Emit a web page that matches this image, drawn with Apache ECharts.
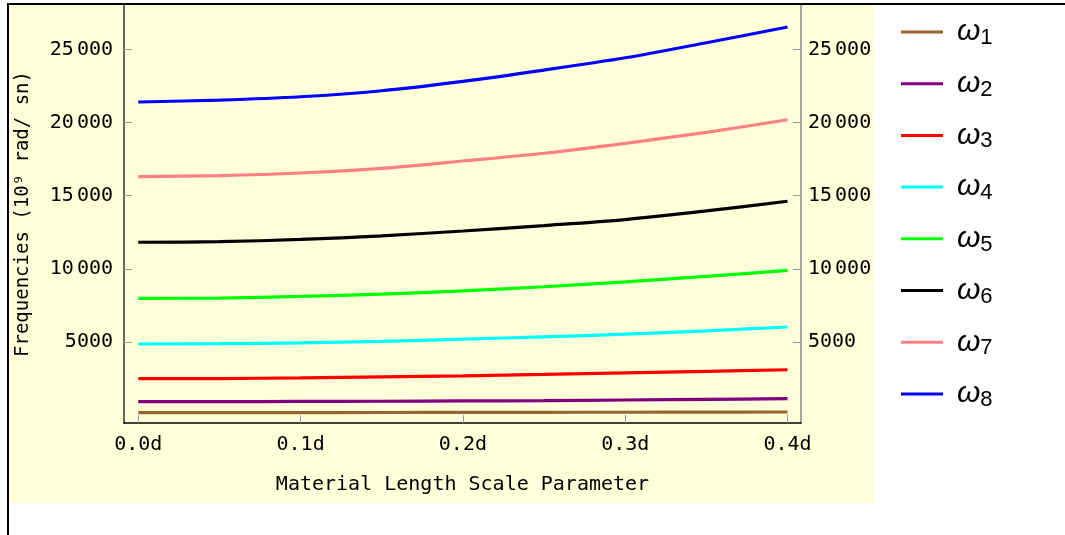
<!DOCTYPE html>
<html>
<head>
<meta charset="utf-8">
<script src="https://cdn.jsdelivr.net/npm/echarts@6/dist/echarts.min.js"></script>
<style>
  html, body { margin: 0; padding: 0; background: #fff; }
  #chart { width: 1065px; height: 535px; }
</style>
</head>
<body>
<div id="chart"></div>
<script>
// Length scale parameter (in units of d)
const lengthScale = [0, 0.05, 0.1, 0.15, 0.2, 0.25, 0.3, 0.35, 0.4];

// Natural frequencies, 10^9 rad/sn
const omega1 = [180, 182, 186, 192, 198, 204, 210, 218, 225];
const omega2 = [930, 935, 945, 960, 980, 1005, 1045, 1090, 1135];
const omega3 = [2500, 2510, 2560, 2620, 2690, 2790, 2900, 3000, 3110];
const omega4 = [4870, 4890, 4950, 5050, 5200, 5360, 5540, 5770, 6030];
const omega5 = [7990, 8010, 8120, 8280, 8500, 8780, 9110, 9490, 9900];
const omega6 = [11820, 11860, 12010, 12260, 12590, 12960, 13370, 13960, 14620];
const omega7 = [16300, 16370, 16550, 16870, 17370, 17900, 18580, 19330, 20190];
const omega8 = [21400, 21530, 21760, 22170, 22810, 23580, 24420, 25450, 26520];

const seriesNames = ['ω1', 'ω2', 'ω3', 'ω4', 'ω5', 'ω6', 'ω7', 'ω8'];
const seriesValues = [omega1, omega2, omega3, omega4, omega5, omega6, omega7, omega8];
const seriesColors = ['#996633', '#800080', '#ff0000', '#00ffff', '#00ff00', '#000000', '#ff8080', '#0000ff'];

const xTicks = [0, 0.1, 0.2, 0.3, 0.4];
const yTicks = [5000, 10000, 15000, 20000, 25000];

const xAxisTitle = 'Material Length Scale Parameter';
const yAxisTitle = 'Frequencies (10⁹ rad/ sn)';

const mono = 'DejaVu Sans Mono';
const fs = 20;
const panelColor = '#ffffda';

function yLabel(v) {
  if (v >= 10000) {
    return '{a|' + Math.floor(v / 1000) + '}{b|000}';
  }
  return '{a|' + v + '}';
}
const yRich = {
  a: { fontFamily: mono, fontSize: fs, color: '#000' },
  b: { fontFamily: mono, fontSize: fs, color: '#000', padding: [0, 0, 0, 3] }
};

const chart = echarts.init(document.getElementById('chart'), null, { renderer: 'canvas' });

const series = seriesNames.map((name, i) => ({
  name: name,
  type: 'line',
  data: lengthScale.map((x, j) => [x, seriesValues[i][j]]),
  smooth: 0.3,
  symbol: 'none',
  lineStyle: { width: 3.2, color: seriesColors[i] },
  itemStyle: { color: seriesColors[i] },
  emphasis: { disabled: true },
  z: 3
}));

chart.setOption({
  animation: false,
  backgroundColor: '#ffffff',
  graphic: [
    {
      type: 'rect', z: -10, silent: true,
      shape: { x: 9, y: 5, width: 865, height: 498 },
      style: { fill: panelColor }
    },
    {
      type: 'rect', z: 100, silent: true,
      shape: { x: 8, y: 4, width: 1100, height: 600 },
      style: { fill: 'none', stroke: '#000', lineWidth: 2 }
    }
  ],
  grid: { left: 124, right: 264, top: 5, bottom: 112, containLabel: false },
  xAxis: {
    type: 'value',
    min: -0.0088,
    max: 0.4083,
    name: xAxisTitle,
    nameLocation: 'middle',
    nameGap: 52,
    nameTextStyle: { fontFamily: mono, fontSize: fs, color: '#000' },
    axisLine: { show: true, onZero: false, lineStyle: { color: '#000', width: 1.5 } },
    axisTick: { show: true, inside: true, length: 8, customValues: xTicks, lineStyle: { color: '#999', width: 1 } },
    axisLabel: {
      customValues: xTicks,
      margin: 12,
      fontFamily: mono, fontSize: fs, color: '#000',
      formatter: v => v.toFixed(1) + 'd'
    },
    splitLine: { show: false }
  },
  yAxis: [
    {
      type: 'value',
      position: 'left',
      min: -526,
      max: 28026,
      name: yAxisTitle,
      nameLocation: 'middle',
      nameGap: 91,
      nameTextStyle: { fontFamily: mono, fontSize: 19, color: '#000' },
      axisLine: { show: true, onZero: false, lineStyle: { color: '#333', width: 1.5 } },
      axisTick: { show: true, inside: true, length: 8, customValues: yTicks, lineStyle: { color: '#999', width: 1 } },
      axisLabel: { customValues: yTicks, margin: 11, formatter: yLabel, rich: yRich },
      splitLine: { show: false }
    },
    {
      type: 'value',
      position: 'right',
      min: -526,
      max: 28026,
      axisLine: { show: true, onZero: false, lineStyle: { color: '#888', width: 1.5 } },
      axisTick: { show: true, inside: true, length: 8, customValues: yTicks, lineStyle: { color: '#999', width: 1 } },
      axisLabel: { customValues: yTicks, margin: 7, formatter: yLabel, rich: yRich },
      splitLine: { show: false }
    }
  ],
  legend: {
    orient: 'vertical',
    left: 896,
    top: 12,
    itemGap: 19.7,
    itemWidth: 42,
    itemHeight: 3,
    icon: 'rect',
    selectedMode: false,
    data: seriesNames,
    formatter: name => '{p|}{w|ω}{s|' + name.slice(1) + '}',
    textStyle: {
      rich: {
        p: { width: 9 },
        w: { fontFamily: 'Liberation Sans', fontStyle: 'italic', fontSize: 30, lineHeight: 34, color: '#000' },
        s: { fontFamily: 'Liberation Sans', fontSize: 22, lineHeight: 22, verticalAlign: 'bottom', color: '#000' }
      }
    }
  },
  series: series
});
</script>
</body>
</html>
